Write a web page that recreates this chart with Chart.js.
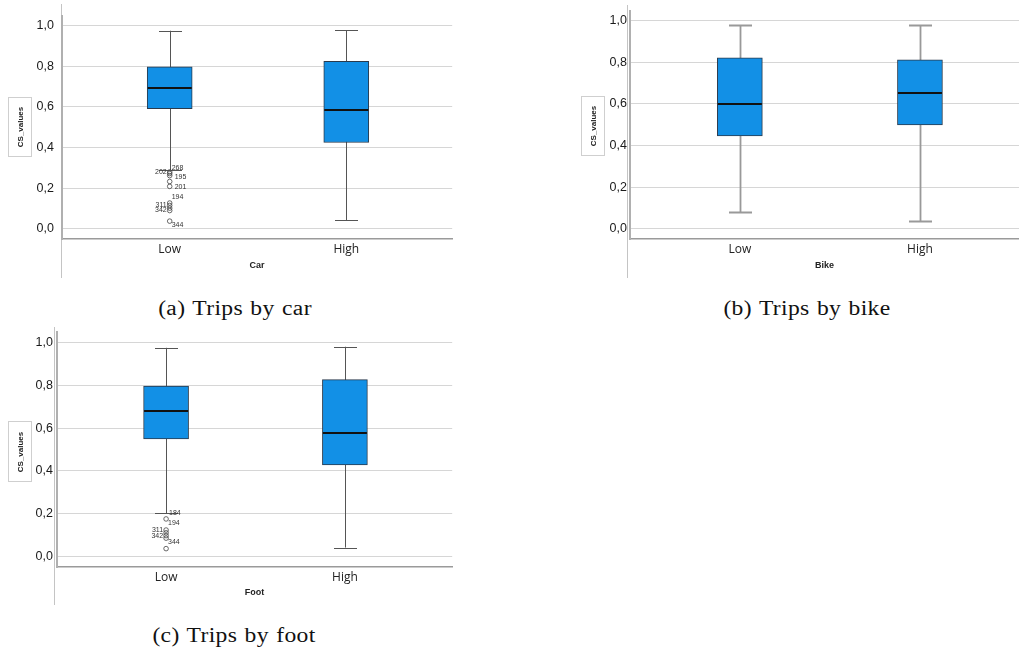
<!DOCTYPE html>
<html>
<head>
<meta charset="utf-8">
<script src="https://cdn.jsdelivr.net/npm/chart.js@4.4.0/dist/chart.umd.min.js"></script>
<style>
body { margin: 0; background: #fff; width: 1019px; height: 649px; position: relative; overflow: hidden; }
.panel { position: absolute; }
.frame { position: absolute; border-left: 1px solid #c4c4c4; width: 0; }
.ylab { position: absolute; border: 1px solid #cfcfcf; box-sizing: border-box; }
.ylab span { position: absolute; left: 50%; top: 50%; transform: translate(-50%, -50%) rotate(-90deg);
  font: bold 8px "Liberation Sans", Arial, sans-serif; color: #222; white-space: nowrap; }
.cap { position: absolute; width: 300px; text-align: center; font: 20.5px "Liberation Serif", serif;
  letter-spacing: 0.3px; word-spacing: 1px; color: #111; transform: scaleX(1.15); }
</style>
</head>
<body>

<div class="frame" style="left:61px; top:4px; height:274px;"></div>
<div class="frame" style="left:627px; top:5px; height:273px;"></div>
<div class="frame" style="left:54px; top:327px; height:278px;"></div>

<div class="panel" style="left:0; top:0;"><canvas id="car" width="457" height="290"></canvas></div>
<div class="panel" style="left:560px; top:0;"><canvas id="bike" width="459" height="290"></canvas></div>
<div class="panel" style="left:0; top:320px;"><canvas id="foot" width="457" height="290"></canvas></div>

<div class="ylab" style="left:8px; top:97px; width:24px; height:60px;"><span>CS_values</span></div>
<div class="ylab" style="left:581px; top:96px; width:24px; height:60px;"><span>CS_values</span></div>
<div class="ylab" style="left:8px; top:421px; width:24px; height:61px;"><span>CS_values</span></div>

<div class="cap" style="left:85px; top:297px;">(a) Trips by car</div>
<div class="cap" style="left:657px; top:297px;">(b) Trips by bike</div>
<div class="cap" style="left:84px; top:624px;">(c) Trips by foot</div>

<script>
var categories = ['Low', 'High'];
var yTicks = [0, 0.2, 0.4, 0.6, 0.8, 1.0];

// Trips by car
var carMin = [0.289, 0.043];
var carQ1 = [0.592, 0.425];
var carMedian = [0.692, 0.583];
var carQ3 = [0.797, 0.825];
var carMax = [0.975, 0.978];
var carOutliers = [0.280, 0.272, 0.262, 0.233, 0.209, 0.127, 0.115, 0.102, 0.090, 0.038];
var carOutlierIds = ['202', '268', '195', '', '201', '194', '311', '', '342', '344'];

// Trips by bike
var bikeMin = [0.080, 0.038];
var bikeQ1 = [0.446, 0.499];
var bikeMedian = [0.602, 0.654];
var bikeQ3 = [0.822, 0.812];
var bikeMax = [0.978, 0.978];
var bikeOutliers = [];
var bikeOutlierIds = [];

// Trips by foot
var footMin = [0.201, 0.041];
var footQ1 = [0.549, 0.428];
var footMedian = [0.680, 0.576];
var footQ3 = [0.797, 0.827];
var footMax = [0.976, 0.981];
var footOutliers = [0.201, 0.175, 0.123, 0.110, 0.097, 0.085, 0.036];
var footOutlierIds = ['184', '194', '311', '', '342', '344', ''];

// where each outlier label sits next to its circle
var carLabelSide = ['l', 'ru', 'r', '', 'r', 'ru', 'l', '', 'l', 'rd'];
var footLabelSide = ['c', 'rd', 'l', '', 'l', 'rd', ''];

function fmt(v){
    return v.toFixed(1).replace('.', ',');
}

var boxPlugin = {
    id: 'boxParts',
    beforeDatasetsDraw: function(chart){
        var s = chart.options.plugins.boxParts;
        var x = chart.scales.x, y = chart.scales.y, ctx = chart.ctx;
        ctx.save();
        ctx.strokeStyle = s.whiskerColor;
        ctx.lineWidth = s.whiskerWidth;
        for (var i = 0; i < categories.length; i++){
            var px = Math.round(x.getPixelForValue(i + 1)) + 0.5;
            var half = s.capWidth / 2;
            ctx.beginPath();
            ctx.moveTo(px, y.getPixelForValue(s.min[i]));
            ctx.lineTo(px, y.getPixelForValue(s.max[i]));
            [s.min[i], s.max[i]].forEach(function(v){
                var py = Math.round(y.getPixelForValue(v)) + 0.5;
                ctx.moveTo(px - half, py);
                ctx.lineTo(px + half, py);
            });
            ctx.stroke();
        }
        ctx.restore();
    },
    afterDatasetsDraw: function(chart){
        var s = chart.options.plugins.boxParts;
        var x = chart.scales.x, y = chart.scales.y, ctx = chart.ctx;
        ctx.save();
        ctx.strokeStyle = '#111';
        ctx.lineWidth = 2;
        for (var i = 0; i < categories.length; i++){
            var px = x.getPixelForValue(i + 1);
            var py = Math.round(y.getPixelForValue(s.median[i]));
            ctx.beginPath();
            ctx.moveTo(px - 22, py);
            ctx.lineTo(px + 22, py);
            ctx.stroke();
        }
        // outlier labels
        ctx.font = '7px "Liberation Sans", Arial, sans-serif';
        ctx.fillStyle = '#333';
        ctx.textBaseline = 'middle';
        var ox = x.getPixelForValue(1);
        s.outliers.forEach(function(v, k){
            var id = s.ids[k], side = s.sides[k];
            if (!id) return;
            var py = y.getPixelForValue(v);
            if (side == 'l'){ ctx.textAlign = 'right'; ctx.fillText(id, ox - 3, py); }
            else if (side == 'r'){ ctx.textAlign = 'left'; ctx.fillText(id, ox + 5, py + 1); }
            else if (side == 'ru'){ ctx.textAlign = 'left'; ctx.fillText(id, ox + 2, py - 6); }
            else if (side == 'c'){ ctx.textAlign = 'left'; ctx.fillText(id, ox + 3, py); }
            else { ctx.textAlign = 'left'; ctx.fillText(id, ox + 2, py + 4); }
        });
        ctx.restore();
    }
};

function makeBox(id, title, q1, q3, med, lo, hi, outl, ids, sides, lay){
    var ctx = document.getElementById(id).getContext('2d');
    return new Chart(ctx, {
        type: 'bar',
        data: {
            datasets: [{
                type: 'bar',
                data: categories.map(function(c, i){ return {x: i + 1, y: [q1[i], q3[i]]}; }),
                backgroundColor: '#1290e6',
                borderColor: '#2a3a4c',
                borderWidth: 1,
                borderSkipped: false,
                barThickness: 45
            }, {
                type: 'scatter',
                data: outl.map(function(v){ return {x: 1, y: v}; }),
                pointStyle: 'circle',
                // an outlier sitting on the whisker cap is hidden by it
                pointRadius: function(c){ return c.raw && c.raw.y >= lo[0] ? 0 : 2.3; },
                borderWidth: 0.8,
                borderColor: '#444',
                backgroundColor: 'rgba(255,255,255,0)'
            }]
        },
        options: {
            responsive: false,
            animation: false,
            layout: {padding: {top: lay.top, right: 0, left: 0, bottom: 0}},
            scales: {
                x: {
                    type: 'linear',
                    offset: false,
                    min: 0.39,
                    max: lay.xMax,
                    afterBuildTicks: function(scale){
                        scale.ticks = categories.map(function(c, i){ return {value: i + 1}; });
                    },
                    afterFit: function(scale){ scale.height = 290 - lay.axisBottom; },
                    grid: {display: false, drawTicks: false},
                    border: {display: true, color: '#9a9a9a', width: 1.5},
                    ticks: {
                        padding: 3,
                        color: '#222',
                        font: {family: 'Open Sans', size: 12},
                        callback: function(v){ return categories[v - 1]; }
                    },
                    title: {
                        display: true,
                        text: title,
                        color: '#222',
                        font: {family: 'Liberation Sans', size: 9, weight: 'bold'},
                        padding: {top: 0, bottom: lay.titlePad}
                    }
                },
                y: {
                    min: -0.05,
                    max: 1.05,
                    afterBuildTicks: function(scale){
                        scale.ticks = yTicks.map(function(v){ return {value: v}; });
                    },
                    afterFit: function(scale){ scale.width = lay.yWidth; },
                    grid: {color: '#d6d6d6', lineWidth: 1, drawTicks: false},
                    border: {display: true, color: '#b0b0b0', width: 2},
                    ticks: {
                        padding: lay.tickPad,
                        color: '#1a1a1a',
                        font: {family: 'Liberation Sans', size: 12.5},
                        callback: function(v){ return fmt(v); }
                    }
                }
            },
            plugins: {
                legend: {display: false},
                tooltip: {enabled: false},
                boxParts: {
                    min: lo, max: hi, median: med,
                    outliers: outl, ids: ids, sides: sides,
                    capWidth: 23,
                    whiskerColor: lay.whiskerColor,
                    whiskerWidth: lay.whiskerWidth
                }
            }
        },
        plugins: [boxPlugin]
    });
}

makeBox('car', 'Car', carQ1, carQ3, carMedian, carMin, carMax, carOutliers, carOutlierIds, carLabelSide,
    {yWidth: 62, tickPad: 8, xMax: 2.6, top: 8, axisBottom: 239, titlePad: 19, whiskerColor: '#555', whiskerWidth: 1});
makeBox('bike', 'Bike', bikeQ1, bikeQ3, bikeMedian, bikeMin, bikeMax, bikeOutliers, bikeOutlierIds, [],
    {yWidth: 70, tickPad: 3, xMax: 2.55, top: 5, axisBottom: 239, titlePad: 19, whiskerColor: '#999', whiskerWidth: 1.8});
makeBox('foot', 'Foot', footQ1, footQ3, footMedian, footMin, footMax, footOutliers, footOutlierIds, footLabelSide,
    {yWidth: 57, tickPad: 4, xMax: 2.6, top: 12, axisBottom: 247, titlePad: 12, whiskerColor: '#555', whiskerWidth: 1});
</script>
</body>
</html>
